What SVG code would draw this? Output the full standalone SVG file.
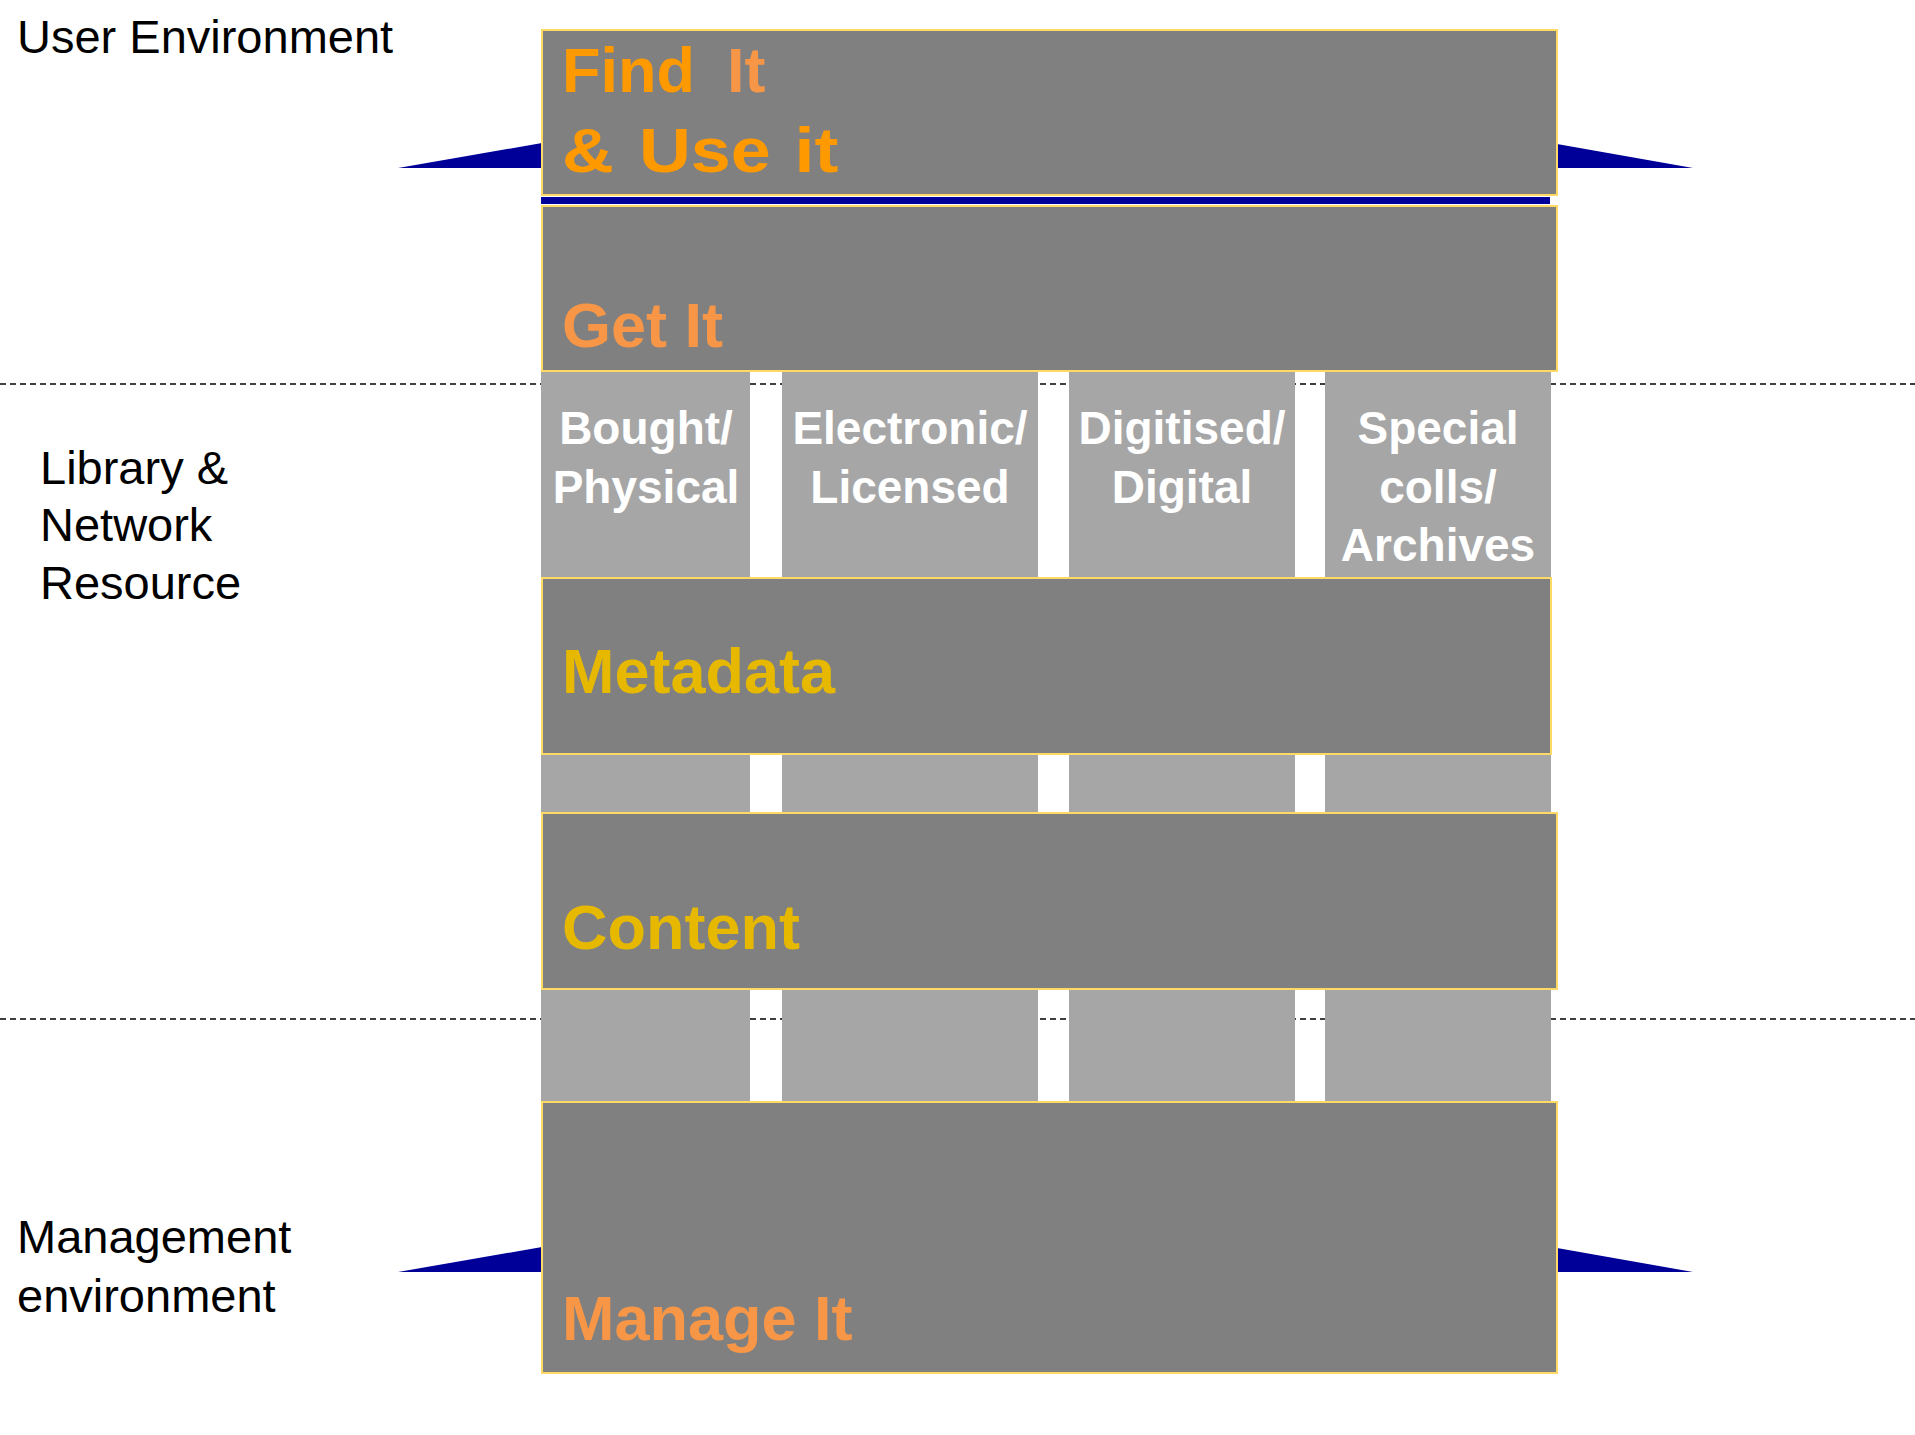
<svg xmlns="http://www.w3.org/2000/svg" width="1915" height="1435" viewBox="0 0 1915 1435">
<style>
.lbl{font-family:"Liberation Sans",Arial,sans-serif;font-size:47px;fill:#000}
.band{fill:#808080;stroke:#FFD966;stroke-width:2}
.col{fill:#A6A6A6}
.title{font-family:"Liberation Sans",Arial,sans-serif;font-weight:bold;font-size:63px}
.coltxt{font-family:"Liberation Sans",Arial,sans-serif;font-weight:bold;font-size:46px;fill:#fff;text-anchor:middle}
.dash{stroke:#000;stroke-width:1.5;stroke-dasharray:6 4;fill:none}
.arrow{fill:#000099}
</style>
<rect width="1915" height="1435" fill="#fff"/>
<g id="labels">
<text class="lbl" x="17" y="53">User Environment</text>
<text class="lbl" x="40" y="484">Library &amp;</text>
<text class="lbl" x="40" y="541">Network</text>
<text class="lbl" x="40" y="599">Resource</text>
<text class="lbl" x="17" y="1253">Management</text>
<text class="lbl" x="17" y="1312">environment</text>
</g>
<g id="connectors">
<line class="dash" x1="0" y1="384" x2="1915" y2="384"/>
<line class="dash" x1="0" y1="1019" x2="1915" y2="1019"/>
<polygon class="arrow" points="398,168 542,143 542,168"/>
<polygon class="arrow" points="1557,144 1693,168 1557,168"/>
<polygon class="arrow" points="398,1272 542,1247 542,1272"/>
<polygon class="arrow" points="1557,1248 1693,1272 1557,1272"/>
<rect class="arrow" x="541" y="197" width="1009" height="7"/>
</g>
<g id="col-bought">
<rect class="col" x="541" y="371" width="209" height="731"/>
<text class="coltxt" x="646" y="444">Bought/</text>
<text class="coltxt" x="646" y="503">Physical</text>
</g>
<g id="col-electronic">
<rect class="col" x="782" y="371" width="256" height="731"/>
<text class="coltxt" x="910" y="444">Electronic/</text>
<text class="coltxt" x="910" y="503">Licensed</text>
</g>
<g id="col-digitised">
<rect class="col" x="1069" y="371" width="226" height="731"/>
<text class="coltxt" x="1182" y="444">Digitised/</text>
<text class="coltxt" x="1182" y="503">Digital</text>
</g>
<g id="col-special">
<rect class="col" x="1325" y="371" width="226" height="731"/>
<text class="coltxt" x="1438" y="444">Special</text>
<text class="coltxt" x="1438" y="503">colls/</text>
<text class="coltxt" x="1438" y="561">Archives</text>
</g>
<g id="find-it">
<rect class="band" x="542" y="30" width="1015" height="165"/>
<text class="title" x="562" y="92" fill="#FF9900">Find</text>
<text class="title" x="727" y="92" fill="#F79646">It</text>
<text class="title" transform="translate(562,172) scale(1.14,1)" fill="#FF9900"><tspan x="0">&amp;</tspan><tspan x="67.5">Use</tspan><tspan x="204">it</tspan></text>
</g>
<g id="get-it">
<rect class="band" x="542" y="206" width="1015" height="165"/>
<text class="title" x="562" y="347" fill="#F79646">Get It</text>
</g>
<g id="metadata">
<rect class="band" x="542" y="578" width="1009" height="176"/>
<text class="title" x="562" y="693" fill="#E6B800">Metadata</text>
</g>
<g id="content">
<rect class="band" x="542" y="813" width="1015" height="176"/>
<text class="title" x="562" y="949" fill="#E6B800">Content</text>
</g>
<g id="manage-it">
<rect class="band" x="542" y="1102" width="1015" height="271"/>
<text class="title" x="562" y="1340" fill="#F79646">Manage It</text>
</g>
</svg>
